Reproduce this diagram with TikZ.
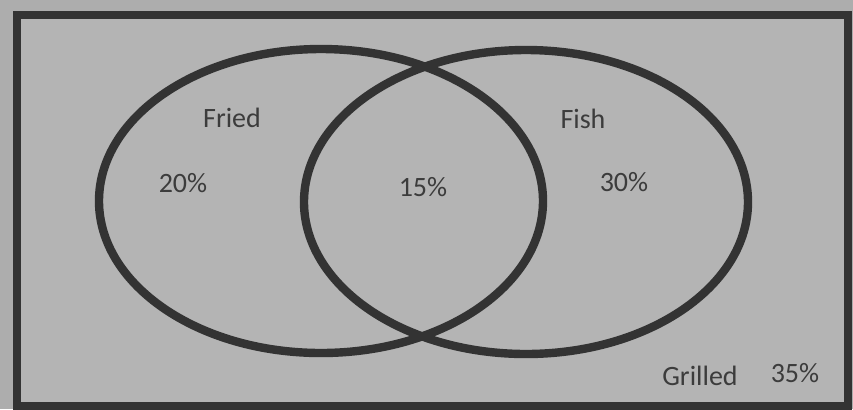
\documentclass[tikz,border=0pt]{standalone}
\usepackage{fontspec}
\setmainfont{Carlito}
\usepackage{xcolor}
\definecolor{paper}{HTML}{ADADAD}
\definecolor{inner}{HTML}{B4B4B4}
\definecolor{ink}{HTML}{333333}
\definecolor{txt}{HTML}{3C3C3C}

\begin{document}
\begin{tikzpicture}[x=0.5pt,y=-0.5pt,
  lbl/.style={text=txt, font=\fontsize{14}{16}\selectfont, inner sep=0pt},
  ring/.style={draw=ink, line width=4.2pt}
]
\fill[paper] (0,0) rectangle (853,409);
\useasboundingbox (0,0) rectangle (853,409);
\draw[draw=ink, fill=inner, line width=4pt] (17,15) rectangle (848,406);

% the two sets
\coordinate (fried) at (321,201);
\coordinate (fish) at (526,202);
\draw[ring] (fried) ellipse [x radius=222, y radius=152];
\draw[ring] (fish) ellipse [x radius=222, y radius=152];

\node[lbl] (friedname) at (232,118) {Fried};
\node[lbl] (friedonly) at (183,183) {20\%};
\node[lbl] (both) at (423,187) {15\%};
\node[lbl] (fishname) at (583,119) {Fish};
\node[lbl] (fishonly) at (624,182) {30\%};
\node[lbl] (grilled) at (700,376) {Grilled};
\node[lbl] (grilledval) at (795,373) {35\%};
\end{tikzpicture}
\end{document}
